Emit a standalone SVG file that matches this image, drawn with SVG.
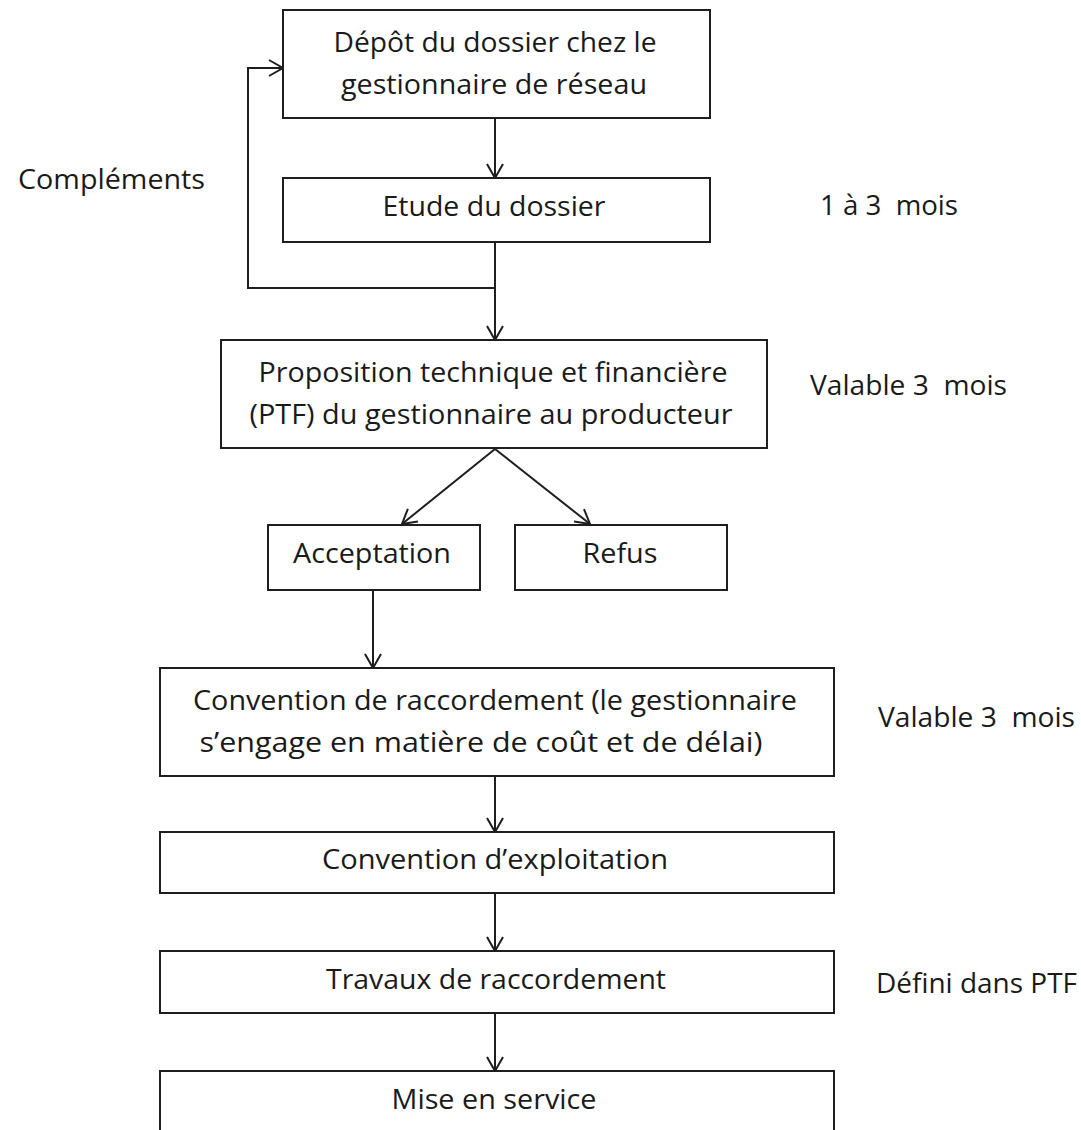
<svg xmlns="http://www.w3.org/2000/svg" width="1081" height="1130" viewBox="0 0 1081 1130">
  <style>
    .box { fill: #ffffff; stroke: #1e1e1e; stroke-width: 2; }
    .lbl { font-family: "Open Sans", "Noto Sans", "DejaVu Sans", sans-serif; font-size: 27px; fill: #1a1a1a; }
    .mid { text-anchor: middle; }
    .link { fill: none; stroke: #1e1e1e; stroke-width: 2; }
  </style>
  <defs>
    <marker id="arrow" viewBox="0 0 20 20" refX="18" refY="10" markerWidth="20" markerHeight="20" markerUnits="userSpaceOnUse" orient="auto">
      <path d="M4,2 L18,10 L4,18" fill="none" stroke="#1e1e1e" stroke-width="2"/>
    </marker>
  </defs>

  <rect width="1081" height="1130" fill="#ffffff"/>

  <!-- connectors -->
  <g id="connectors">
    <line class="link" x1="495" y1="118" x2="495" y2="178" marker-end="url(#arrow)"/>
    <line class="link" x1="495" y1="242" x2="495" y2="340" marker-end="url(#arrow)"/>
    <path class="link" d="M495,288 H248 V68 H283" marker-end="url(#arrow)"/>
    <line class="link" x1="495" y1="449" x2="402" y2="524" marker-end="url(#arrow)"/>
    <line class="link" x1="495" y1="449" x2="590" y2="524" marker-end="url(#arrow)"/>
    <line class="link" x1="373" y1="590" x2="373" y2="668" marker-end="url(#arrow)"/>
    <line class="link" x1="495" y1="776" x2="495" y2="832" marker-end="url(#arrow)"/>
    <line class="link" x1="495" y1="893" x2="495" y2="951" marker-end="url(#arrow)"/>
    <line class="link" x1="495" y1="1013" x2="495" y2="1071" marker-end="url(#arrow)"/>
  </g>

  <!-- process steps -->
  <g id="depot">
    <rect class="box" x="283" y="10" width="427" height="108"/>
    <text class="lbl mid" x="495" y="52" textLength="323" lengthAdjust="spacingAndGlyphs">Dépôt du dossier chez le</text>
    <text class="lbl mid" x="494" y="94" textLength="306" lengthAdjust="spacingAndGlyphs">gestionnaire de réseau</text>
  </g>

  <g id="etude">
    <rect class="box" x="283" y="178" width="427" height="64"/>
    <text class="lbl mid" x="494" y="216" textLength="223" lengthAdjust="spacingAndGlyphs">Etude du dossier</text>
  </g>

  <g id="ptf">
    <rect class="box" x="221" y="340" width="546" height="108"/>
    <text class="lbl mid" x="493" y="382" textLength="469" lengthAdjust="spacingAndGlyphs">Proposition technique et financière</text>
    <text class="lbl mid" x="491" y="424" textLength="483" lengthAdjust="spacingAndGlyphs">(PTF) du gestionnaire au producteur</text>
  </g>

  <g id="acceptation">
    <rect class="box" x="268" y="525" width="212" height="65"/>
    <text class="lbl mid" x="372" y="563" textLength="158" lengthAdjust="spacingAndGlyphs">Acceptation</text>
  </g>

  <g id="refus">
    <rect class="box" x="515" y="525" width="212" height="65"/>
    <text class="lbl mid" x="620" y="563" textLength="75" lengthAdjust="spacingAndGlyphs">Refus</text>
  </g>

  <g id="convention-raccordement">
    <rect class="box" x="160" y="668" width="674" height="108"/>
    <text class="lbl mid" x="495" y="710" textLength="604" lengthAdjust="spacingAndGlyphs">Convention de raccordement (le gestionnaire</text>
    <text class="lbl mid" x="481" y="752" textLength="563" lengthAdjust="spacingAndGlyphs">s’engage en matière de coût et de délai)</text>
  </g>

  <g id="convention-exploitation">
    <rect class="box" x="160" y="832" width="674" height="61"/>
    <text class="lbl mid" x="495" y="869" textLength="346" lengthAdjust="spacingAndGlyphs">Convention d’exploitation</text>
  </g>

  <g id="travaux">
    <rect class="box" x="160" y="951" width="674" height="62"/>
    <text class="lbl mid" x="496" y="989" textLength="340" lengthAdjust="spacingAndGlyphs">Travaux de raccordement</text>
  </g>

  <g id="mise-en-service">
    <rect class="box" x="160" y="1071" width="674" height="80"/>
    <text class="lbl mid" x="494" y="1109" textLength="205" lengthAdjust="spacingAndGlyphs">Mise en service</text>
  </g>

  <!-- side annotations -->
  <g id="annotations">
    <text class="lbl" x="18" y="189" textLength="187" lengthAdjust="spacingAndGlyphs">Compléments</text>
    <text class="lbl" x="820" y="215" textLength="138" lengthAdjust="spacingAndGlyphs" xml:space="preserve">1 à 3  mois</text>
    <text class="lbl" x="810" y="395" textLength="197" lengthAdjust="spacingAndGlyphs" xml:space="preserve">Valable 3  mois</text>
    <text class="lbl" x="878" y="727" textLength="197" lengthAdjust="spacingAndGlyphs" xml:space="preserve">Valable 3  mois</text>
    <text class="lbl" x="876" y="993" textLength="201" lengthAdjust="spacingAndGlyphs">Défini dans PTF</text>
  </g>
</svg>
